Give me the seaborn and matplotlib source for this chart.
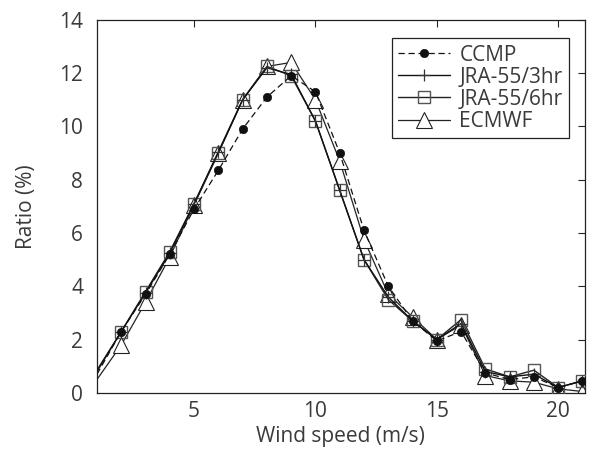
import matplotlib
matplotlib.use("Agg")
import matplotlib.pyplot as plt
import seaborn as sns
import pandas as pd
from matplotlib.lines import Line2D

wind = [1, 2, 3, 4, 5, 6, 7, 8, 9, 10, 11, 12, 13, 14, 15, 16, 17, 18, 19, 20, 21]
ccmp = [0.7, 2.3, 3.7, 5.2, 6.9, 8.35, 9.9, 11.1, 11.9, 11.3, 9.0, 6.1, 4.0, 2.7, 1.95, 2.3, 0.75, 0.5, 0.6, 0.2, 0.45]
jra3 = [0.85, 2.3, 3.75, 5.25, 7.1, 9.05, 11.0, 12.2, 11.95, 10.2, 7.6, 5.0, 3.6, 2.7, 2.0, 2.6, 0.8, 0.6, 0.7, 0.2, 0.45]
jra6 = [0.8, 2.3, 3.8, 5.3, 7.1, 9.0, 11.0, 12.25, 11.9, 10.2, 7.6, 5.0, 3.5, 2.7, 2.0, 2.75, 0.9, 0.6, 0.85, 0.2, 0.45]
ecmwf = [0.5, 1.8, 3.4, 5.1, 7.05, 9.0, 11.0, 12.25, 12.4, 11.0, 8.7, 5.75, 3.7, 2.85, 2.0, 2.55, 0.65, 0.45, 0.4, 0.15, 0.05]

series_names = ["CCMP", "JRA-55/3hr", "JRA-55/6hr", "ECMWF"]
xticks = [5, 10, 15, 20]
yticks = [0, 2, 4, 6, 8, 10, 12, 14]

sns.set_style("white")
plt.rcParams["font.family"] = ["Open Sans", "DejaVu Sans"]

fig = plt.figure(figsize=(5.95, 4.5), dpi=100)
ax = fig.add_axes([0.163, 0.127, 0.820, 0.829])

txt = "#3a3a3a"
fs = 15
styles = {
    "ECMWF": dict(color="#222222", lw=0.9, ls="-", marker="^", ms=11, mfc="white",
                  mec="#222222", mew=0.8, zorder=2),
    "JRA-55/6hr": dict(color="#222222", lw=1.0, ls="-", marker="s", ms=9, mfc="none",
                       mec="#555555", mew=1.0, zorder=3),
    "JRA-55/3hr": dict(color="#111111", lw=1.0, ls="-", marker="+", ms=9, mfc="none",
                       mec="#333333", mew=0.9, zorder=4),
    "CCMP": dict(color="#111111", lw=0.9, ls=(0, (5, 3)), marker="o", ms=6, mfc="#111111",
                 mec="#111111", mew=0.5, zorder=5),
}
data = {"CCMP": ccmp, "JRA-55/3hr": jra3, "JRA-55/6hr": jra6, "ECMWF": ecmwf}

for name in ["ECMWF", "JRA-55/6hr", "JRA-55/3hr", "CCMP"]:
    df = pd.DataFrame({"wind": wind, "ratio": data[name]})
    st = styles[name]
    sns.lineplot(data=df, x="wind", y="ratio", ax=ax, color=st["color"], linewidth=st["lw"],
                 linestyle=st["ls"], marker=st["marker"], markersize=st["ms"],
                 markerfacecolor=st["mfc"], markeredgecolor=st["mec"], markeredgewidth=st["mew"],
                 markevery=list(range(1, len(wind))), zorder=st["zorder"], legend=False)

ax.set_xlim(1, 21.1)
ax.set_ylim(0, 14)
ax.set_xticks(xticks)
ax.set_yticks(yticks)
ax.set_xlabel("Wind speed (m/s)", fontsize=fs, color=txt, labelpad=3)
ax.set_ylabel("Ratio (%)", fontsize=fs, color=txt, labelpad=16)
ax.tick_params(axis="x", direction="in", length=5, width=0.8, labelsize=fs, labelcolor=txt, pad=6)
ax.tick_params(axis="y", direction="out", length=6, width=0.8, labelsize=fs, labelcolor=txt, pad=4)
for s in ax.spines.values():
    s.set_color("#222222")
    s.set_linewidth(0.9)

secx = ax.secondary_xaxis("top")
secx.set_xticks(xticks)
secx.tick_params(direction="in", length=5, width=0.8, labeltop=False)
secx.spines["top"].set_visible(False)
secy = ax.secondary_yaxis("right")
secy.set_yticks(yticks)
secy.tick_params(direction="in", length=5, width=0.8, labelright=False)
secy.spines["right"].set_visible(False)

handles = []
for name in series_names:
    st = styles[name]
    handles.append(Line2D([0], [0], color=st["color"], lw=st["lw"], ls=st["ls"], marker=st["marker"],
                          ms=st["ms"], mfc=st["mfc"], mec=st["mec"], mew=st["mew"]))
leg = ax.legend(handles, series_names, loc="upper right", bbox_to_anchor=(0.9885, 0.978),
                fontsize=fs, frameon=True, fancybox=False, edgecolor="#222222",
                handlelength=2.5, handletextpad=0.45, borderpad=0.3, labelspacing=0.05,
                numpoints=1, framealpha=1)
leg.get_frame().set_linewidth(0.9)
for t in leg.get_texts():
    t.set_color(txt)

fig.savefig("out.png", dpi=100)
